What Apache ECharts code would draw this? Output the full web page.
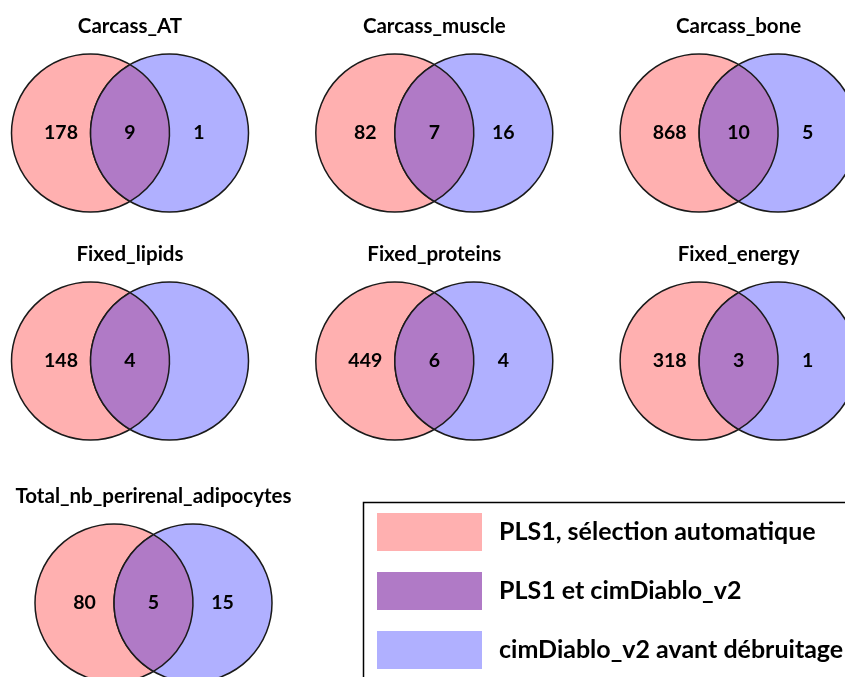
<!DOCTYPE html>
<html>
<head>
<meta charset="utf-8">
<script src="https://cdn.jsdelivr.net/npm/echarts@6/dist/echarts.min.js"></script>
<style>html,body{margin:0;padding:0;background:#fff;}#chart{width:845px;height:677px;}</style>
</head>
<body>
<div id="chart"></div>
<script>
// ---- data ----
const panelTitles = ['Carcass_AT','Carcass_muscle','Carcass_bone','Fixed_lipids','Fixed_proteins','Fixed_energy','Total_nb_perirenal_adipocytes'];
const pls1Only   = [178, 82, 868, 148, 449, 318, 80];
const bothSets   = [9, 7, 10, 4, 6, 3, 5];
const diabloOnly = [1, 16, 5, null, 4, 1, 15];
const legendNames = ['PLS1, sélection automatique', 'PLS1 et cimDiablo_v2', 'cimDiablo_v2 avant débruitage'];

// ---- layout / style ----
const COL_X = [90.5, 394.8, 699.1];
const ROW_Y = [133, 361, 603];
const LAST_ROW_X = 114;
const R = 79;
const COLORS = ['#FFB0B0', '#B07AC6', '#B0B0FF'];
const STROKE = '#1a1a1a';
const FONT = '"Lato", "Open Sans", sans-serif';

function panelCenter(i) {
  const row = Math.floor(i / 3), col = i % 3;
  return [row < 2 ? COL_X[col] : LAST_ROW_X, ROW_Y[row]];
}

function numText(x, y, v) {
  return { type: 'text', style: { text: v == null ? '' : String(v), x: x, y: y, align: 'center', verticalAlign: 'middle', font: 'bold 19.5px ' + FONT, fill: '#000' } };
}

function makeData(vals) { return panelTitles.map((t, i) => [i, vals[i]]); }

function renderLeft(params, api) {
  const i = api.value(0);
  const c = panelCenter(i);
  const p = api.coord(c);
  const r = api.size([R, 0])[0];
  const pl = api.coord([c[0] - 29.5, c[1]]);
  return { type: 'group', children: [
    { type: 'circle', shape: { cx: p[0], cy: p[1], r: r }, style: { fill: COLORS[0], stroke: STROKE, lineWidth: 1.5 } },
    numText(pl[0], pl[1], api.value(1))
  ]};
}
function renderRight(params, api) {
  const i = api.value(0);
  const c = panelCenter(i);
  const p = api.coord([c[0] + R, c[1]]);
  const r = api.size([R, 0])[0];
  const pr = api.coord([c[0] + R + 29.5, c[1]]);
  const v = diabloOnly[i];
  return { type: 'group', children: [
    { type: 'circle', shape: { cx: p[0], cy: p[1], r: r }, style: { fill: COLORS[2], stroke: STROKE, lineWidth: 1.5 } },
    numText(pr[0], pr[1], v)
  ]};
}
function renderBoth(params, api) {
  const i = api.value(0);
  const c = panelCenter(i);
  const m = api.coord([c[0] + R / 2, c[1]]);
  const r = api.size([R, 0])[0];
  const h = Math.sqrt(r * r - (r / 2) * (r / 2));
  const path = 'M' + m[0] + ',' + (m[1] - h) +
    ' A' + r + ',' + r + ' 0 0 1 ' + m[0] + ',' + (m[1] + h) +
    ' A' + r + ',' + r + ' 0 0 1 ' + m[0] + ',' + (m[1] - h) + ' Z';
  const tp = api.coord([c[0] + R / 2, c[1] - 107]);
  return { type: 'group', children: [
    { type: 'path', shape: { pathData: path }, style: { fill: COLORS[1], stroke: STROKE, lineWidth: 1.5 } },
    numText(m[0], m[1], api.value(1)),
    { type: 'text', style: { text: panelTitles[i], x: tp[0], y: tp[1], align: 'center', verticalAlign: 'middle', font: 'bold 20.5px ' + FONT, fill: '#000' } }
  ]};
}

const chart = echarts.init(document.getElementById('chart'), null, { renderer: 'canvas' });
chart.setOption({
  animation: false,
  backgroundColor: '#fff',
  grid: { left: 0, right: 0, top: 0, bottom: 0 },
  xAxis: { type: 'value', min: 0, max: 845, show: false },
  yAxis: { type: 'value', min: 0, max: 677, inverse: true, show: false },
  legend: {
    data: legendNames,
    orient: 'vertical',
    left: 377, top: 513,
    padding: 0,
    itemWidth: 105, itemHeight: 38, itemGap: 21,
    icon: 'rect',
    itemStyle: { borderWidth: 0 },
    selectedMode: false,
    textStyle: { fontFamily: FONT, fontWeight: 'bold', fontSize: 25, color: '#000', padding: [0, 0, 0, 12] }
  },
  graphic: [{ type: 'rect', shape: { x: 363.5, y: 502.5, width: 600, height: 300 }, style: { fill: 'none', stroke: '#000', lineWidth: 1.5 }, z: -1 }],
  series: [
    { type: 'custom', name: legendNames[0], renderItem: renderLeft, data: makeData(pls1Only), itemStyle: { color: COLORS[0] }, z: 1, clip: false },
    { type: 'custom', name: legendNames[2], renderItem: renderRight, data: makeData(diabloOnly.map(v => v == null ? 0 : v)), itemStyle: { color: COLORS[2] }, z: 2, clip: false },
    { type: 'custom', name: legendNames[1], renderItem: renderBoth, data: makeData(bothSets), itemStyle: { color: COLORS[1] }, z: 3, clip: false }
  ]
});
</script>
</body>
</html>
